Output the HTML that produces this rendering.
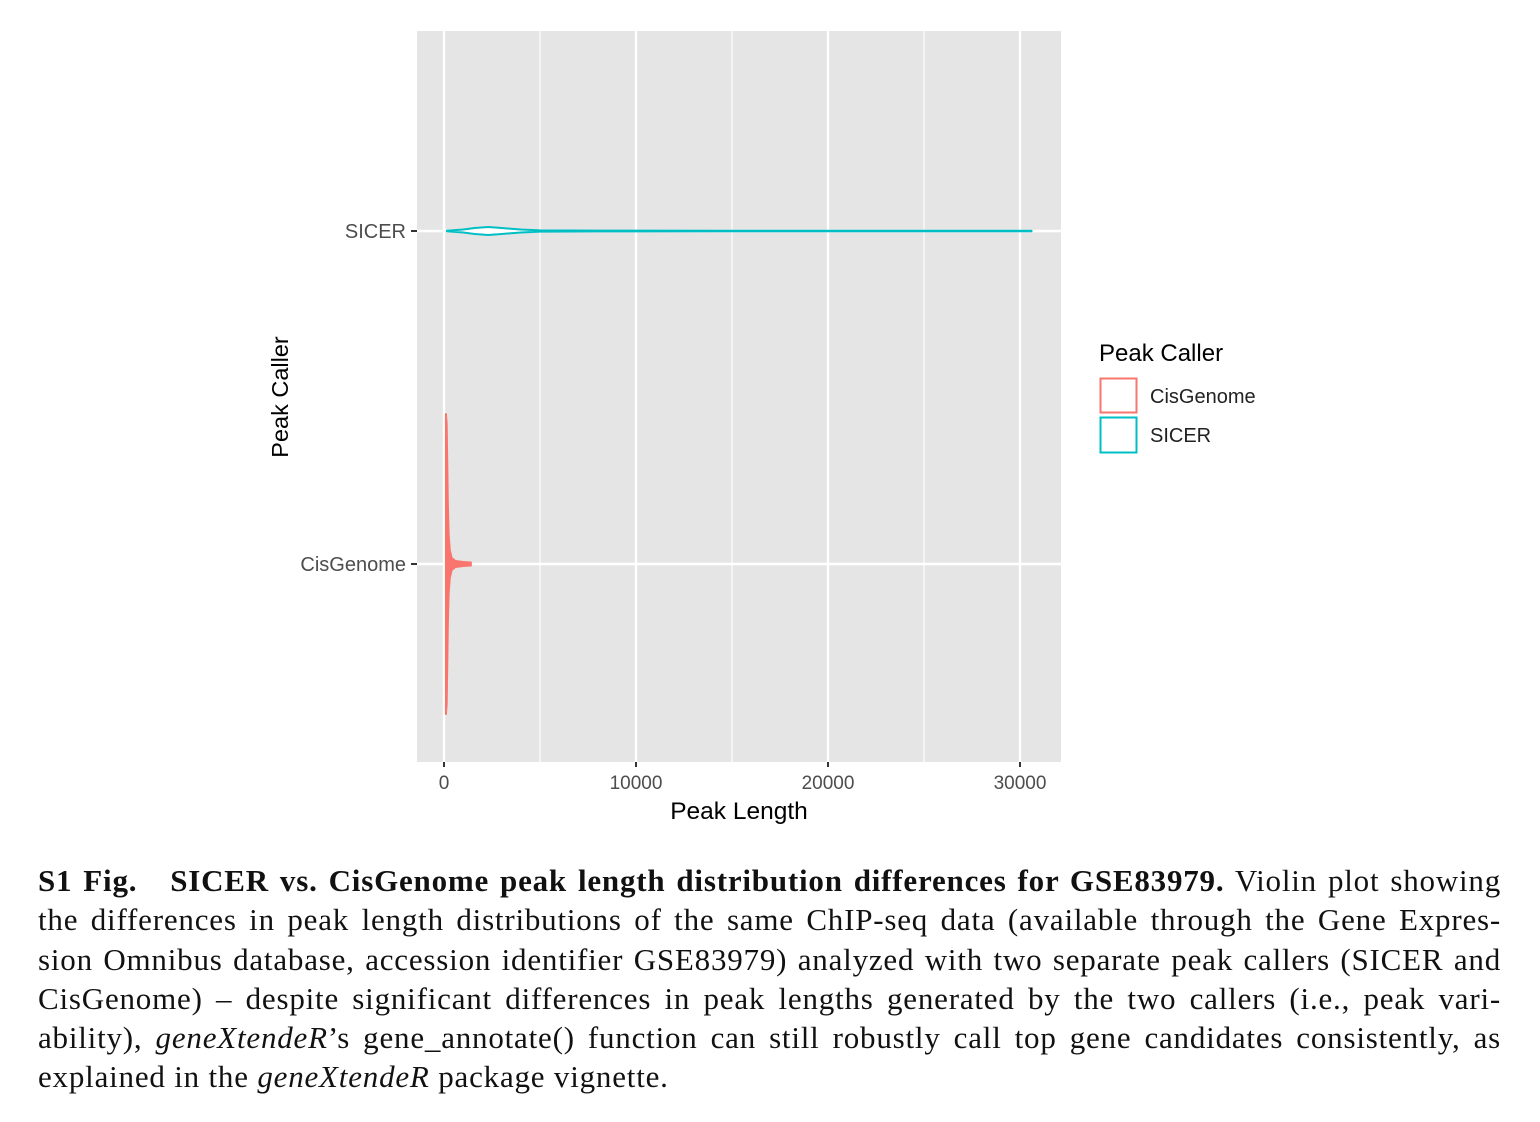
<!DOCTYPE html>
<html><head><meta charset="utf-8"><style>
body{margin:0;background:#fff;width:1540px;height:1122px;overflow:hidden;position:relative}
.cap{position:absolute;left:38px;top:861px;width:1463px;font-family:"Liberation Serif",serif;font-size:31px;letter-spacing:0.8px;line-height:39.3px;color:#111}
.cap div{text-align:justify;text-align-last:justify;white-space:nowrap}
.cap div.last{text-align-last:left}
</style></head><body>
<svg id="chart" width="1540" height="850" style="position:absolute;left:0;top:0" font-family="Liberation Sans, sans-serif">
<rect x="417" y="31" width="644" height="731" fill="#e5e5e5"/>
<g id="grid"></g><g id="marks"></g><g id="axes"></g>
<text x="739" y="819" font-size="24.5" text-anchor="middle" fill="#000">Peak Length</text>
<text transform="translate(288,397) rotate(-90)" font-size="23.5" text-anchor="middle" fill="#000">Peak Caller</text>
<g>
<text x="1099" y="361" font-size="24" fill="#000">Peak Caller</text>
<rect x="1100.5" y="378.5" width="36" height="34" fill="#fff" stroke="#F8766D" stroke-width="2"/>
<text x="1150" y="403" font-size="20" fill="#222">CisGenome</text>
<rect x="1100.5" y="417.5" width="36" height="35" fill="#fff" stroke="#00BFC4" stroke-width="2"/>
<text x="1150" y="442" font-size="20" fill="#222">SICER</text>
</g>
</svg>
<div class="cap">
<div><b>S1 Fig.&nbsp;&nbsp; SICER vs. CisGenome peak length distribution differences for GSE83979.</b> Violin plot showing</div>
<div>the differences in peak length distributions of the same ChIP-seq data (available through the Gene Expres-</div>
<div>sion Omnibus database, accession identifier GSE83979) analyzed with two separate peak callers (SICER and</div>
<div>CisGenome) – despite significant differences in peak lengths generated by the two callers (i.e., peak vari-</div>
<div>ability), <i>geneXtendeR</i>’s gene_annotate() function can still robustly call top gene candidates consistently, as</div>
<div class="last">explained in the <i>geneXtendeR</i> package vignette.</div>
</div>
<script>
const categories=["CisGenome","SICER"];
const xTicks=[0,10000,20000,30000];
const xMinor=[5000,15000,25000];
const cisValues=[100,140,170,200,240,300,400,600,1000,1400];
const cisDensity=[150,140,100,60,30,14,6,3,2,1.5];
const sicerValues=[150,1000,1600,2300,3000,4000,5000,8000,15000,25000,30600];
const sicerDensity=[0.3,1.5,3,4,3,1.5,0.6,0.4,0.3,0.3,0.2];
const colors=["#F8766D","#00BFC4"];
const NS="http://www.w3.org/2000/svg";
const x=v=>444+v*0.0192;
const yCat=i=>[564,231][i];
const wpx=d=>d;
function mk(tag,attrs,parent){const e=document.createElementNS(NS,tag);for(const k in attrs)e.setAttribute(k,attrs[k]);parent.appendChild(e);return e;}
const grid=document.getElementById('grid'),marks=document.getElementById('marks'),axes=document.getElementById('axes');
xMinor.forEach(v=>{const l=mk('line',{x1:x(v),x2:x(v),y1:31,y2:762,stroke:'#fff','stroke-width':1.2},grid);

});
xTicks.forEach(v=>{const l=mk('line',{x1:x(v),x2:x(v),y1:31,y2:762,stroke:'#fff','stroke-width':2.4},grid);


const t=mk('line',{x1:x(v),x2:x(v),y1:762,y2:767,stroke:'#333','stroke-width':2},axes);


const tx=mk('text',{x:x(v),y:789,'font-size':19,'text-anchor':'middle',fill:'#4d4d4d'},axes);tx.textContent=v;

});
categories.forEach((c,i)=>{const y=yCat(i);
const l=mk('line',{x1:417,x2:1061,y1:y,y2:y,stroke:'#fff','stroke-width':2.4},grid);


const t=mk('line',{x1:411,x2:417,y1:y,y2:y,stroke:'#333','stroke-width':2},axes);


const tx=mk('text',{x:406,y:y+7,'font-size':20,'text-anchor':'end',fill:'#4d4d4d'},axes);tx.textContent=c;

});
function violin(vals,dens,i,name,fill){const y=yCat(i);let top=[],bot=[];
vals.forEach((v,k)=>{top.push(x(v)+','+(y-wpx(dens[k])));bot.unshift(x(v)+','+(y+wpx(dens[k])));});
const p=mk('polygon',{points:top.concat(bot).join(' '),fill:fill,stroke:colors[i],'stroke-width':2,'stroke-linejoin':'round'},marks);

}
violin(cisValues,cisDensity,0,'violin-cisgenome',colors[0]);
violin(sicerValues,sicerDensity,1,'violin-sicer','#fff');
</script>
</body></html>
